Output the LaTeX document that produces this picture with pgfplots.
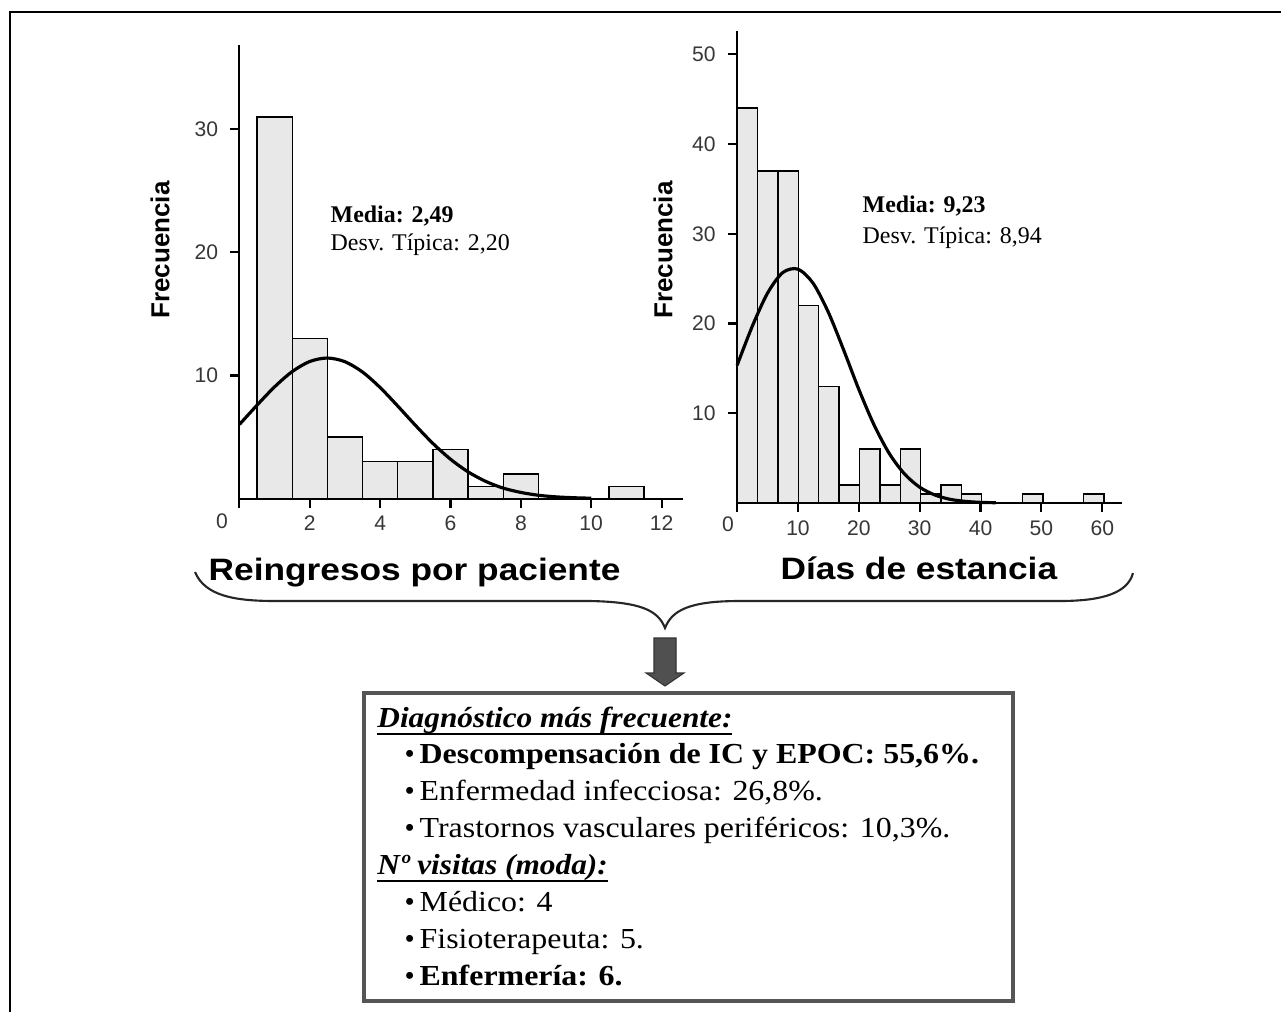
\documentclass[border=0pt]{standalone}
\usepackage{pgfplots}
\pgfplotsset{compat=1.18}
\usepackage{fontspec}
\setmainfont{Liberation Serif}
\setsansfont{Liberation Sans}
\newcommand\myul[1]{\setbox0\hbox{#1}\rlap{\rule[-2.2pt]{\wd0}{0.45pt}}\box0}
\definecolor{barfill}{RGB}{232,232,232}
\definecolor{tickgray}{RGB}{55,55,55}
\definecolor{arrowgray}{RGB}{80,80,80}
\definecolor{boxgray}{RGB}{85,85,85}

\pgfplotsset{histo/.style={
  scale only axis,
  axis x line=bottom, axis y line=left,
  axis line style={-, line width=0.6pt},
  tick align=outside, major tick length=0.09cm,
  tick style={line width=0.6pt, black},
  ymin=0, clip=false,
  tick label style={font=\sffamily\fontsize{6}{7}\selectfont, text=tickgray},
  xticklabel style={yshift=0.04cm},
  /pgf/number format/assume math mode=true,
}}

\begin{document}
\begin{tikzpicture}
\begin{scope}[x=0.01cm,y=-0.01cm]
\path[use as bounding box, fill=white] (0,0) rectangle (1281,1012);
\draw[line width=0.85pt] (10,1012) -- (10,12) -- (1281,12);
\end{scope}

% left histogram: readmissions per patient
\begin{axis}[histo,
  at={(2.393cm,-4.983cm)}, anchor=south west,
  width=4.437cm, height=4.533cm,
  xmin=0, xmax=12.62, ymax=36.85,
  xtick={0,2,4,6,8,10,12}, xticklabels={,2,4,6,8,10,12},
  ytick={10,20,30},
]
\addplot[ybar interval, fill=barfill, draw=black, line width=0.4pt] coordinates {
  (0.5,31)(1.5,13)(2.5,5)(3.5,3)(4.5,3)(5.5,4)(6.5,1)(7.5,2)(8.5,0)(9.5,0)(10.5,1)(11.5,0)};
\addplot[black, line width=0.9pt, smooth] coordinates {
  (0,6.02)(0.5,7.59)(1,9.08)(1.5,10.32)(2,11.14)(2.5,11.42)(3,11.12)(3.5,10.28)
  (4,9.02)(4.5,7.52)(5,5.96)(5.5,4.48)(6,3.20)(6.5,2.17)(7,1.40)(7.5,0.85)
  (8,0.50)(8.5,0.27)(9,0.14)(9.5,0.07)(10,0.03)};
\end{axis}

% right histogram: days of stay
\begin{axis}[histo,
  at={(7.367cm,-5.027cm)}, anchor=south west,
  width=3.85cm, height=4.717cm,
  xmin=0, xmax=63.3, ymax=52.6,
  xtick={0,10,20,30,40,50,60}, xticklabels={,10,20,30,40,50,60},
  ytick={10,20,30,40,50},
]
\addplot[ybar interval, fill=barfill, draw=black, line width=0.4pt] coordinates {
  (0,44)(3.35,37)(6.7,37)(10.05,22)(13.4,13)(16.75,2)(20.1,6)(23.45,2)(26.8,6)
  (30.15,1)(33.5,2)(36.85,1)(40.2,0)(43.55,0)(46.9,1)(50.25,0)(53.6,0)(56.95,1)(60.3,0)};
\addplot[black, line width=0.9pt, smooth] coordinates {
  (0,15.35)(2.5,19.71)(5,23.39)(7.5,25.68)(10,26.06)(12.5,24.47)
  (15,21.24)(17.5,17.06)(20,12.66)(22.5,8.70)(25,5.52)(27.5,3.24)(30,1.76)
  (32.5,0.89)(35,0.41)(37.5,0.18)(40,0.07)(42.5,0.03)};
\end{axis}

\begin{scope}[x=0.01cm,y=-0.01cm]
% origin labels
\node[font=\sffamily\fontsize{6}{7}\selectfont, text=tickgray] at (222,521) {0};
\node[font=\sffamily\fontsize{6}{7}\selectfont, text=tickgray] at (728,524) {0};
% axis titles
\node[rotate=90, font=\sffamily\bfseries\fontsize{7.4}{8}\selectfont] at (160,250) {Frecuencia};
\node[rotate=90, font=\sffamily\bfseries\fontsize{7.4}{8}\selectfont] at (663,250) {Frecuencia};
% statistics
\node[anchor=base west, inner sep=0, font=\bfseries\fontsize{6.8}{8}\selectfont] at (330,222.7) {Media: 2,49};
\node[anchor=base west, inner sep=0, font=\fontsize{6.8}{8}\selectfont] at (330,250.7) {Desv. Típica: 2,20};
\node[anchor=base west, inner sep=0, font=\bfseries\fontsize{6.8}{8}\selectfont] at (862,212.7) {Media: 9,23};
\node[anchor=base west, inner sep=0, font=\fontsize{6.8}{8}\selectfont] at (862,243.3) {Desv. Típica: 8,94};
% variable names
\node[anchor=base west, inner sep=0, font=\sffamily\bfseries\fontsize{8.8}{10}\selectfont] at (208,580) {\scalebox{1.14}[1]{Reingresos por paciente}};
\node[anchor=base west, inner sep=0, font=\sffamily\bfseries\fontsize{8.8}{10}\selectfont] at (780,579.3) {\scalebox{1.14}[1]{Días de estancia}};
% brace
\draw[line width=0.6pt, black!85] (195,572) .. controls (205,596) and (235,601) .. (275,601)
  -- (590,601) .. controls (640,602) and (658,610) .. (665,628)
  .. controls (672,610) and (690,601) .. (740,601)
  -- (1060,601) .. controls (1105,601) and (1128,592) .. (1133,573);
% arrow
\fill[arrowgray, draw=black!80, line width=0.3pt] (654,638) -- (676,638) -- (676,673) -- (684,673)
  -- (665,686) -- (646,673) -- (654,673) -- cycle;
% summary box
\draw[boxgray, line width=1.1pt, fill=white] (364,693) rectangle (1013,1001);
\begin{scope}[every node/.style={anchor=base west, inner sep=0, font=\fontsize{8.25}{9}\selectfont}]
\node at (376.7,727) {\scalebox{1.08}[1]{\bfseries\itshape\myul{Diagnóstico más frecuente:}}};
\node at (404,763) {•};
\node at (419,763) {\scalebox{1.10}[1]{\bfseries Descompensación de IC y EPOC: 55,6\%.}};
\node at (404,800) {•};
\node at (419,800) {\scalebox{1.10}[1]{Enfermedad infecciosa: 26,8\%.}};
\node at (404,837) {•};
\node at (419,837) {\scalebox{1.10}[1]{Trastornos vasculares periféricos: 10,3\%.}};
\node at (376.7,874) {\scalebox{1.08}[1]{\bfseries\itshape\myul{Nº visitas (moda):}}};
\node at (404,911) {•};
\node at (419,911) {\scalebox{1.10}[1]{Médico: 4}};
\node at (404,948) {•};
\node at (419,948) {\scalebox{1.10}[1]{Fisioterapeuta: 5.}};
\node at (404,985) {•};
\node at (419,985) {\scalebox{1.10}[1]{\bfseries Enfermería: 6.}};
\end{scope}
\end{scope}
\end{tikzpicture}
\end{document}
